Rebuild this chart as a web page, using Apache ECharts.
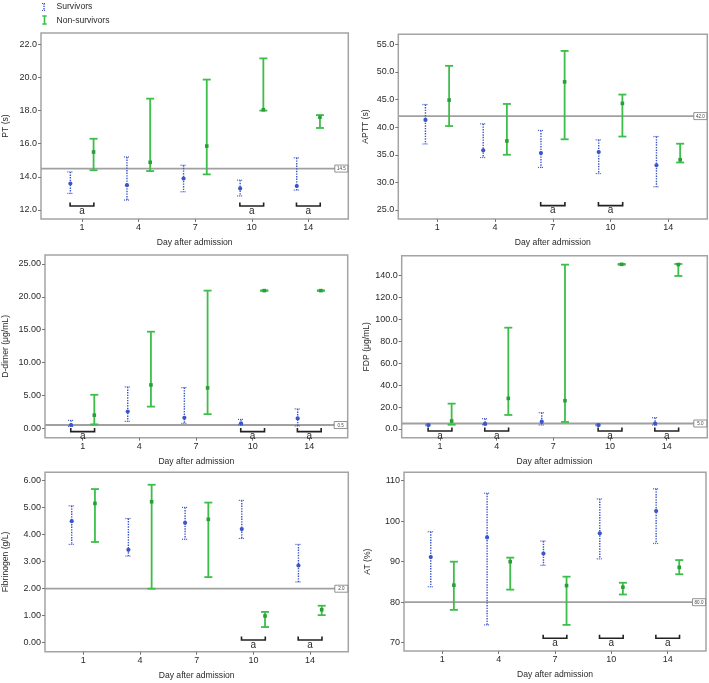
<!DOCTYPE html>
<html>
<head>
<meta charset="utf-8">
<script src="https://cdn.jsdelivr.net/npm/echarts@6/dist/echarts.min.js"></script>
<style>html,body{margin:0;padding:0;background:#fff}#c{width:709px;height:683px}</style>
</head>
<body>
<div id="c"></div>
<script>
// ---- data (low, median, high) ----
const days = ['1', '4', '7', '10', '14'];
const groupNames = ['Survivors', 'Non-survivors'];

const ptSurv = [[13.0, 13.6, 14.3], [12.6, 13.5, 15.2], [13.1, 13.9, 14.7], [12.85, 13.3, 13.8], [13.2, 13.45, 15.15]];
const ptNon = [[14.4, 15.5, 16.3], [14.35, 14.88, 18.72], [14.15, 15.86, 19.87], [18.0, 18.05, 21.15], [16.95, 17.6, 17.73]];
const ptRef = 14.5;
const ptSig = [0, 3, 4];
const ptSigY = 12.24;
const ptTicks = [12, 14, 16, 18, 20, 22];

const apttSurv = [[36.95, 41.3, 44.1], [34.5, 35.8, 40.6], [32.7, 35.3, 39.4], [31.6, 35.5, 37.7], [29.2, 33.1, 38.3]];
const apttNon = [[40.2, 44.9, 51.1], [35.0, 37.5, 44.2], [37.8, 48.2, 53.8], [38.3, 44.3, 45.9], [33.6, 34.1, 37.0]];
const apttRef = 42.0;
const apttSig = [2, 3];
const apttSigY = 25.8;
const apttTicks = [25, 30, 35, 40, 45, 50, 55];

const ddSurv = [[0.3, 0.5, 1.2], [1.05, 2.55, 6.3], [0.75, 1.6, 6.2], [0.5, 0.75, 1.35], [0.35, 1.5, 2.95]];
const ddNon = [[0.6, 2.0, 5.1], [3.3, 6.6, 14.7], [2.15, 6.15, 20.95], [20.9, 20.95, 21.0], [20.9, 20.95, 21.0]];
const ddRef = 0.5;
const ddSig = [0, 3, 4];
const ddSigY = -0.5;
const ddTicks = [0, 5, 10, 15, 20, 25];

const fdpSurv = [[3.0, 3.6, 4.3], [3.9, 4.6, 9.4], [3.6, 6.7, 14.9], [3.0, 3.6, 4.3], [3.6, 4.9, 10.3]];
const fdpNon = [[3.9, 7.3, 23.1], [12.8, 27.9, 92.3], [6.4, 25.8, 149.7], [149.6, 150.0, 150.4], [139.4, 149.8, 150.3]];
const fdpRef = 5.0;
const fdpSig = [0, 1, 3, 4];
const fdpSigY = -1.8;
const fdpTicks = [0, 20, 40, 60, 80, 100, 120, 140];

const fibSurv = [[3.64, 4.5, 5.07], [3.21, 3.44, 4.6], [3.83, 4.44, 5.01], [3.86, 4.21, 5.27], [2.25, 2.86, 3.64]];
const fibNon = [[3.73, 5.16, 5.69], [2.0, 5.22, 5.85], [2.43, 4.57, 5.19], [0.58, 0.99, 1.14], [1.02, 1.22, 1.37]];
const fibRef = 2.0;
const fibSig = [3, 4];
const fibSigY = 0.1;
const fibTicks = [0, 1, 2, 3, 4, 5, 6];

const atSurv = [[83.8, 91.15, 97.4], [74.4, 96.0, 106.9], [89.1, 92.0, 95.1], [90.7, 97.0, 105.5], [94.5, 102.5, 108.0]];
const atNon = [[78.1, 84.2, 90.0], [83.1, 90.0, 91.0], [74.4, 84.1, 86.3], [81.9, 83.7, 84.8], [86.9, 88.6, 90.4]];
const atRef = 80.0;
const atSig = [2, 3, 4];
const atSigY = 71.1;
const atTicks = [70, 80, 90, 100, 110];

// ---- styling / layout ----
const FONT = 'Liberation Sans, Arial, Helvetica, sans-serif';
const BLUE = '#3c55c8';
const GREEN = '#3dbe4b';
const GREEN_D = '#2a9e39';
const FRAME = '#a4a4a4';
const TXT = '#2a2a2a';
const OFF = 0.205;

const panels = [
  {surv: ptSurv, non: ptNon, ref: ptRef, sig: ptSig, sigY: ptSigY, ticks: ptTicks, dec: 1, name: 'PT (s)',
   grid: {left: 40.7, top: 33, width: 307.6, height: 186}, x: [-0.724, 4.706], y: [11.457, 22.682], gap: 31},
  {surv: apttSurv, non: apttNon, ref: apttRef, sig: apttSig, sigY: apttSigY, ticks: apttTicks, dec: 1, name: 'APTT (s)',
   grid: {left: 398.3, top: 34.3, width: 309, height: 184.7}, x: [-0.675, 4.675], y: [23.37, 56.81], gap: 28},
  {surv: ddSurv, non: ddNon, ref: ddRef, sig: ddSig, sigY: ddSigY, ticks: ddTicks, dec: 2, name: 'D-dimer (μg/mL)',
   grid: {left: 45, top: 255, width: 302.7, height: 182.7}, x: [-0.665, 4.678], y: [-1.43, 26.37], gap: 35},
  {surv: fdpSurv, non: fdpNon, ref: fdpRef, sig: fdpSig, sigY: fdpSigY, ticks: fdpTicks, dec: 1, name: 'FDP (μg/mL)',
   grid: {left: 401.7, top: 255.7, width: 305.6, height: 182}, x: [-0.676, 4.716], y: [-7.92, 157.85], gap: 31},
  {surv: fibSurv, non: fibNon, ref: fibRef, sig: fibSig, sigY: fibSigY, ticks: fibTicks, dec: 2, name: 'Fibrinogen (g/L)',
   grid: {left: 44.3, top: 472.3, width: 304, height: 179.4}, x: [-0.676, 4.674], y: [-0.333, 6.311], gap: 35},
  {surv: atSurv, non: atNon, ref: atRef, sig: atSig, sigY: atSigY, ticks: atTicks, dec: 0, name: 'AT (%)',
   grid: {left: 404, top: 472.3, width: 302, height: 178.7}, x: [-0.68, 4.68], y: [67.95, 112.07], gap: 32}
];

function survRender(params, api) {
  const i = api.value(0);
  const x = api.coord([i - OFF, api.value(2)])[0];
  const yLo = api.coord([i, api.value(1)])[1];
  const yMed = api.coord([i, api.value(2)])[1];
  const yHi = api.coord([i, api.value(3)])[1];
  const dot = {stroke: BLUE, lineWidth: 1.4, lineDash: [1.4, 1.2]};
  return {type: 'group', children: [
    {type: 'line', shape: {x1: x, y1: yHi, x2: x, y2: yLo}, style: dot},
    {type: 'line', shape: {x1: x - 3, y1: yHi, x2: x + 3, y2: yHi}, style: {stroke: BLUE, lineWidth: 1.2, lineDash: [1, 1]}},
    {type: 'line', shape: {x1: x - 3, y1: yLo, x2: x + 3, y2: yLo}, style: {stroke: BLUE, lineWidth: 1.2, lineDash: [1, 1]}},
    {type: 'circle', shape: {cx: x, cy: yMed, r: 2.1}, style: {fill: BLUE}}
  ]};
}

function nonRender(params, api) {
  const i = api.value(0);
  const x = api.coord([i + OFF, api.value(2)])[0];
  const yLo = api.coord([i, api.value(1)])[1];
  const yMed = api.coord([i, api.value(2)])[1];
  const yHi = api.coord([i, api.value(3)])[1];
  const st = {stroke: GREEN, lineWidth: 1.8};
  return {type: 'group', children: [
    {type: 'line', shape: {x1: x, y1: yHi, x2: x, y2: yLo}, style: st},
    {type: 'line', shape: {x1: x - 4, y1: yHi, x2: x + 4, y2: yHi}, style: st},
    {type: 'line', shape: {x1: x - 4, y1: yLo, x2: x + 4, y2: yLo}, style: st},
    {type: 'rect', shape: {x: x - 1.8, y: yMed - 1.8, width: 3.6, height: 3.6}, style: {fill: GREEN_D}}
  ]};
}

function refRender(label) {
  return function (params, api) {
    const cs = params.coordSys;
    const y = api.coord([0, api.value(0)])[1];
    const bx = cs.x + cs.width - 13.5;
    return {type: 'group', children: [
      {type: 'line', shape: {x1: cs.x, y1: y, x2: cs.x + cs.width, y2: y}, style: {stroke: '#a0a0a0', lineWidth: 1.8}},
      {type: 'rect', shape: {x: bx, y: y - 3.5, width: 13, height: 7}, style: {fill: '#fff', stroke: '#777', lineWidth: 0.8}},
      {type: 'text', style: {text: label, x: bx + 6.5, y: y + 0.3, align: 'center', verticalAlign: 'middle', fontSize: 4.5, fontFamily: FONT, fill: '#444'}}
    ]};
  };
}

function sigRender(params, api) {
  const i = api.value(0);
  const p1 = api.coord([i - 0.21, api.value(1)]);
  const p2 = api.coord([i + 0.21, api.value(1)]);
  const xc = api.coord([i, api.value(1)])[0];
  const st = {stroke: '#222', lineWidth: 1.6, fill: null};
  return {type: 'group', children: [
    {type: 'polyline', shape: {points: [[p1[0], p1[1] - 3.5], [p1[0], p1[1]], [p2[0], p2[1]], [p2[0], p2[1] - 3.5]]}, style: st},
    {type: 'text', style: {text: 'a', x: xc, y: p1[1] + 5, align: 'center', verticalAlign: 'middle', fontSize: 10, fontFamily: FONT, fill: TXT}}
  ]};
}

const grids = [], xAxes = [], yAxes = [], series = [];
panels.forEach((p, k) => {
  grids.push(Object.assign({show: true, borderColor: FRAME, borderWidth: 1.5, backgroundColor: 'transparent'}, p.grid));
  const idx = [0, 1, 2, 3, 4];
  xAxes.push({
    type: 'value', gridIndex: k, min: p.x[0], max: p.x[1], position: 'bottom',
    name: 'Day after admission', nameLocation: 'middle', nameGap: 19,
    nameTextStyle: {fontSize: 8.6, fontFamily: FONT, color: TXT},
    axisLine: {show: false, onZero: false}, splitLine: {show: false},
    axisTick: {show: true, length: 3, lineStyle: {color: '#777'}, customValues: idx},
    axisLabel: {customValues: idx, formatter: v => days[Math.round(v)], fontSize: 9, fontFamily: FONT, color: TXT, margin: 4}
  });
  yAxes.push({
    type: 'value', gridIndex: k, min: p.y[0], max: p.y[1], position: 'left',
    name: p.name, nameLocation: 'middle', nameGap: p.gap,
    nameTextStyle: {fontSize: 8.6, fontFamily: FONT, color: TXT},
    axisLine: {show: false, onZero: false}, splitLine: {show: false},
    axisTick: {show: true, length: 3, lineStyle: {color: '#777'}, customValues: p.ticks},
    axisLabel: {customValues: p.ticks, formatter: v => v.toFixed(p.dec), fontSize: 9, fontFamily: FONT, color: TXT, margin: 4}
  });
  series.push({
    type: 'custom', name: 'ref' + k, xAxisIndex: k, yAxisIndex: k, z: 1, silent: true,
    renderItem: refRender(p.ref.toFixed(1)), data: [[p.ref]], encode: {y: 0}
  });
  series.push({
    type: 'custom', name: groupNames[0], xAxisIndex: k, yAxisIndex: k, z: 3,
    itemStyle: {color: BLUE}, renderItem: survRender,
    data: p.surv.map((d, j) => [j, d[0], d[1], d[2]]), encode: {x: 0, y: [1, 2, 3]}
  });
  series.push({
    type: 'custom', name: groupNames[1], xAxisIndex: k, yAxisIndex: k, z: 3,
    itemStyle: {color: GREEN}, renderItem: nonRender,
    data: p.non.map((d, j) => [j, d[0], d[1], d[2]]), encode: {x: 0, y: [1, 2, 3]}
  });
  series.push({
    type: 'custom', name: 'sig' + k, xAxisIndex: k, yAxisIndex: k, z: 4, silent: true,
    renderItem: sigRender, data: p.sig.map(j => [j, p.sigY]), encode: {x: 0, y: 1}
  });
});

// legend (drawn as graphic elements so the icons keep the error-bar look)
const legendGraphic = [
  {type: 'line', shape: {x1: 44, y1: 3.5, x2: 44, y2: 10.5}, style: {stroke: BLUE, lineWidth: 1.4, lineDash: [1.3, 1]}},
  {type: 'line', shape: {x1: 42, y1: 3.5, x2: 46, y2: 3.5}, style: {stroke: BLUE, lineWidth: 1.1, lineDash: [1, 1]}},
  {type: 'line', shape: {x1: 42, y1: 10.5, x2: 46, y2: 10.5}, style: {stroke: BLUE, lineWidth: 1.1, lineDash: [1, 1]}},
  {type: 'text', style: {text: groupNames[0], x: 56.5, y: 7, verticalAlign: 'middle', fontSize: 8.6, fontFamily: FONT, fill: TXT}},
  {type: 'line', shape: {x1: 44.5, y1: 16, x2: 44.5, y2: 24}, style: {stroke: GREEN, lineWidth: 1.6}},
  {type: 'line', shape: {x1: 42.3, y1: 16, x2: 46.7, y2: 16}, style: {stroke: GREEN, lineWidth: 1.5}},
  {type: 'line', shape: {x1: 42.3, y1: 24, x2: 46.7, y2: 24}, style: {stroke: GREEN, lineWidth: 1.5}},
  {type: 'text', style: {text: groupNames[1], x: 56.5, y: 21, verticalAlign: 'middle', fontSize: 8.6, fontFamily: FONT, fill: TXT}}
];

const chart = echarts.init(document.getElementById('c'), null, {renderer: 'canvas'});
chart.setOption({
  animation: false,
  backgroundColor: '#fff',
  graphic: legendGraphic,
  grid: grids, xAxis: xAxes, yAxis: yAxes, series: series
});
</script>
</body>
</html>
